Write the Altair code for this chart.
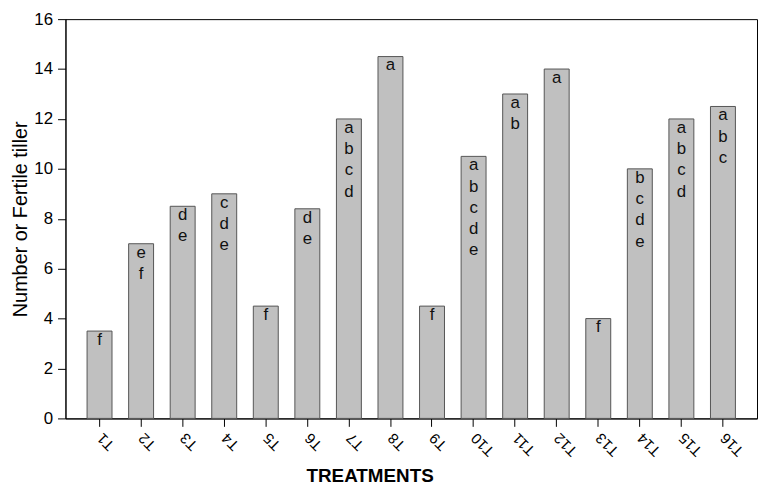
import altair as alt
import pandas as pd

treatments = [f"T{i}" for i in range(1, 17)]
values = [3.5, 7, 8.5, 9, 4.5, 8.4, 12, 14.5, 4.5, 10.5, 13, 14, 4, 10, 12, 12.5]
letters = ["f", "ef", "de", "cde", "f", "de", "abcd", "a", "f", "abcde",
           "ab", "a", "f", "bcde", "abcd", "abc"]

df = pd.DataFrame({
    "treatment": treatments,
    "value": values,
    "letters": [list(s) for s in letters],
})

x = alt.X("treatment:N", sort=treatments, title="TREATMENTS",
          scale=alt.Scale(paddingInner=0.4, paddingOuter=0.52),
          axis=alt.Axis(labelAngle=225, labelAlign="right", labelBaseline="middle",
                        labelFontSize=15, labelPadding=9, tickSize=8,
                        titleFontSize=19, titleFontWeight="bold",
                        titleX=307, titleY=49, titleBaseline="top",
                        titleAnchor="start", titleAlign="center"))
y = alt.Y("value:Q", title="Number or Fertile tiller",
          scale=alt.Scale(domain=[0, 16], nice=False),
          axis=alt.Axis(values=list(range(0, 17, 2)), grid=False, tickSize=8,
                        labelFontSize=17, labelPadding=5,
                        titleFontSize=20, titleFontWeight="normal", titlePadding=3))

bars = alt.Chart(df).mark_bar(color="#c0c0c0", stroke="#555555", strokeWidth=1).encode(x=x, y=y)
text = alt.Chart(df).mark_text(baseline="top", dy=1, fontSize=17, lineHeight=21.5,
                               color="#111111", font="Liberation Sans").encode(
    x=alt.X("treatment:N", sort=treatments), y="value:Q", text="letters")

chart = (bars + text).properties(
    width=698, height=403,
    autosize=alt.AutoSizeParams(type="none"),
    padding={"left": 58, "top": 9, "right": 2, "bottom": 68},
).configure_axis(
    domainColor="black", tickColor="black", labelColor="black", titleColor="black",
    labelFont="Liberation Sans", titleFont="Liberation Sans",
).configure_view(stroke="black", strokeWidth=1)

chart.save("out.html", embed_options={"renderer": "svg", "actions": False})
